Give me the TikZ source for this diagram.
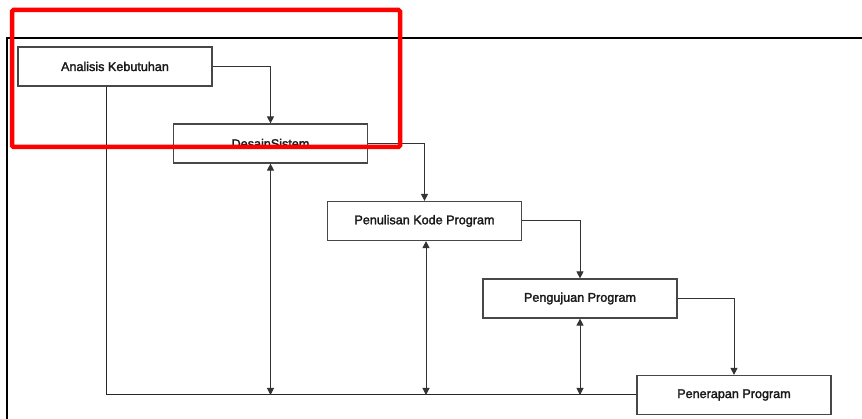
\documentclass[tikz,border=0pt]{standalone}
\usepackage{fontspec}
\setmainfont{Liberation Sans}
\newfontfamily\stagefont{Liberation Sans}[FakeBold=2]
\usetikzlibrary{arrows.meta}
\begin{document}
\begin{tikzpicture}[x=1pt,y=-1pt,
  tip/.tip={Triangle[length=7pt,width=7pt]},
  stagebox/.style={draw=black!72, line width=1.2pt, minimum width=194pt, minimum height=39pt,
    inner sep=0pt, font=\stagefont\fontsize{12.6}{14}\selectfont, text=black!90},
  flow/.style={draw=black!80, line width=1pt, -tip},
  link/.style={draw=black!80, line width=1pt, tip-tip},
  rail/.style={draw=black!85, line width=1pt}]
\useasboundingbox (0,0) rectangle (862,419);
\fill[white] (0,0) rectangle (862,419);
% frame lines
\draw[black, line width=1.6pt] (7,419) -- (7,38) -- (862,38);
% stages
\node[stagebox] (a) at (115,66.5) {Analisis Kebutuhan};
\node[stagebox] (b) at (270.5,143.5) {DesainSistem};
\node[stagebox] (c) at (424.5,221) {Penulisan Kode Program};
\node[stagebox] (d) at (580,298.5) {Pengujuan Program};
\node[stagebox] (e) at (734,395) {Penerapan Program};
% forward flow
\draw[flow] (a.east) -| (b.north);
\draw[flow] (b.east) -| (c.north);
\draw[flow] (c.east) -| (d.north);
\draw[flow] (d.east) -| (e.north);
% feedback rail
\coordinate (r0) at (106,395);
\coordinate (r1) at (b.south |- r0);
\coordinate (r2) at (c.south |- r0);
\coordinate (r3) at (d.south |- r0);
\draw[rail] (a.south -| r0) -- (r0) -- (e.west);
\draw[link] (b.south) -- (r1);
\draw[link] ([xshift=1.5pt]c.south) -- ([xshift=1.5pt]r2);
\draw[link] (d.south) -- (r3);
% highlight
\draw[red, line width=4.5pt, rounded corners=1.5pt] (12,10) rectangle (400,147);
\end{tikzpicture}
\end{document}
